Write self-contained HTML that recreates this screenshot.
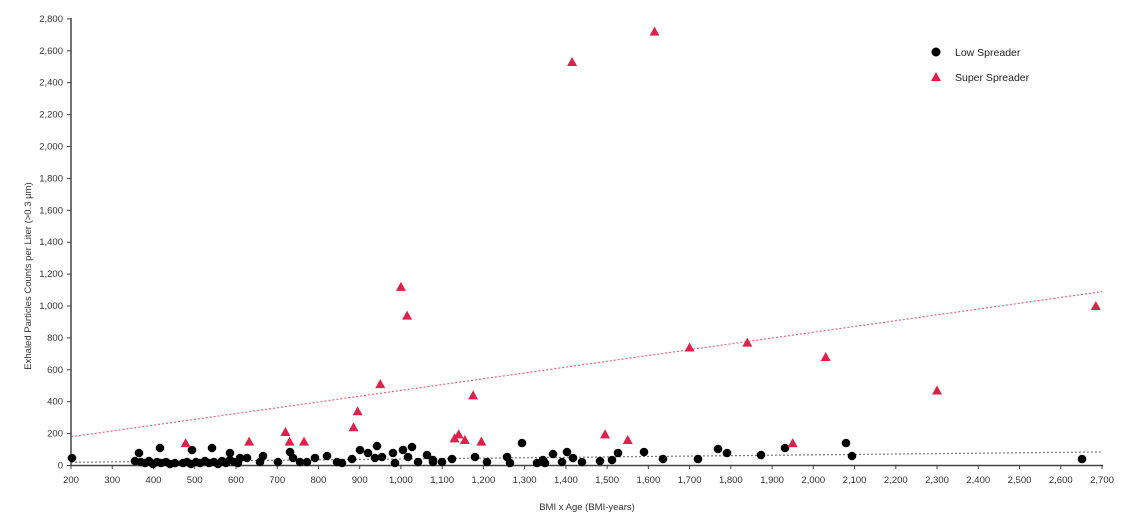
<!DOCTYPE html>
<html><head><meta charset="utf-8"><style>
body{margin:0;background:#fff}
svg{display:block;font-family:"Liberation Sans",sans-serif}
</style></head><body>
<svg id="s" width="1134" height="516" viewBox="0 0 1134 516" xmlns="http://www.w3.org/2000/svg">
<g id="g"></g>
</svg>
<script>
const NS="http://www.w3.org/2000/svg",g=document.getElementById('g');
const X=v=>71+(v-200)*0.4124, Y=v=>465.5-v*0.1595;
function el(t,a,txt){const e=document.createElementNS(NS,t);for(const k in a)e.setAttribute(k,a[k]);if(txt!=null)e.textContent=txt;g.appendChild(e);return e;}
el('line',{x1:X(200),y1:Y(180),x2:X(2700),y2:Y(1090),stroke:'#f06080','stroke-width':1.2,'stroke-dasharray':'2,2'});
el('line',{x1:X(200),y1:Y(20),x2:X(2700),y2:Y(85),stroke:'#777','stroke-width':1.2,'stroke-dasharray':'2,2'});
el('line',{x1:71,y1:18,x2:71,y2:466,stroke:'#444','stroke-width':1.5});
el('line',{x1:70,y1:465.5,x2:1103,y2:465.5,stroke:'#444','stroke-width':1.5});
for(let v=0;v<=2800;v+=200){const y=Y(v);el('line',{x1:67,y1:y,x2:71,y2:y,stroke:'#444'});
 el('text',{x:63,y:y+3,'text-anchor':'end','font-size':9.5,fill:'#333'},v.toLocaleString('en-US'));}
for(let v=200;v<=2700;v+=100){const x=X(v);el('line',{x1:x,y1:465,x2:x,y2:469,stroke:'#444'});
 el('text',{x:x,y:483,'text-anchor':'middle','font-size':9.5,fill:'#333'},v.toLocaleString('en-US'));}
el('text',{x:587,y:510,'text-anchor':'middle','font-size':9.5,fill:'#333'},'BMI x Age (BMI-years)');
el('text',{x:0,y:0,'text-anchor':'middle','font-size':9.5,fill:'#333',transform:'translate(31,276) rotate(-90)'},'Exhaled Particles Counts per Liter (>0.3 µm)');
const B=[[72,458],[139,453],[135,461],[141,462],[145,463],[149,461],[153,464],[157,462],[161,463],[166,462],[170,464],[175,463],[160,448],[192,450],[187,462],[183,463],[191,464],[196,462],[200,463],[205,461],[209,463],[214,462],[218,464],[222,461],[226,463],[230,460],[234,462],[238,463],[240,458],[212,448],[230,453],[247,458],[260,462],[263,456],[278,462],[290,452],[293,458],[300,462],[307,462],[315,458],[327,456],[337,462],[342,463],[352,459],[360,450],[368,453],[377,446],[375,458],[382,457],[393,453],[395,463],[403,450],[412,447],[408,457],[418,462],[427,455],[433,462],[433,460],[442,462],[452,459],[475,457],[487,462],[507,457],[510,463],[522,443],[537,463],[543,460],[545,463],[553,454],[562,462],[567,452],[573,458],[582,462],[600,461],[612,460],[618,453],[644,452],[663,459],[698,459],[718,449],[727,453],[761,455],[785,448],[846,443],[852,456],[1082,459]];
B.forEach(p=>el('circle',{cx:p[0],cy:p[1],r:4.3,fill:'#000'}));
const R=[[478,140],[632,150],[720,210],[730,150],[765,150],[885,240],[895,340],[950,510],[1000,1120],[1015,940],[1130,170],[1140,195],[1155,160],[1175,440],[1195,150],[1415,2530],[1615,2720],[1495,195],[1550,160],[1700,740],[1840,770],[2030,680],[1950,140],[2300,470],[2685,1000]];
const tri=(x,y)=>`${x-5},${y+4} ${x+5},${y+4} ${x},${y-5}`;
R.forEach(p=>el('polygon',{points:tri(X(p[0]),Y(p[1])),fill:'#e0204a'}));
el('circle',{cx:936,cy:52,r:4.5,fill:'#000'});
el('text',{x:955,y:56,'font-size':10.5,fill:'#222'},'Low Spreader');
el('polygon',{points:tri(936,77),fill:'#e0204a'});
el('text',{x:955,y:81,'font-size':10.5,fill:'#222'},'Super Spreader');
</script>
</body></html>
